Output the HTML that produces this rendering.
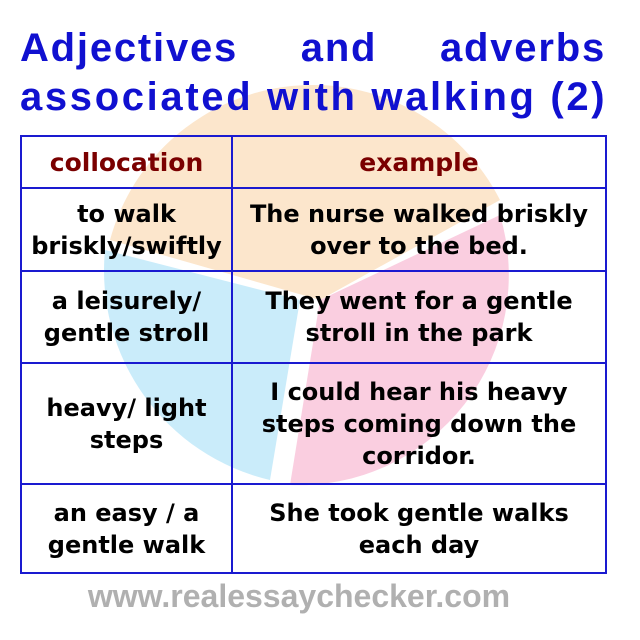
<!DOCTYPE html>
<html><head><meta charset="utf-8"><style>
body{margin:0;width:640px;height:640px;background:#fff;position:relative;overflow:hidden;font-family:"DejaVu Sans","Liberation Sans",sans-serif}
.t{position:absolute;left:20px;width:586px;color:#1010d0;font-family:"Liberation Sans",sans-serif;font-weight:bold;font-size:40px;line-height:40px;white-space:nowrap;letter-spacing:1.8px}
table{position:absolute;left:20px;top:135px;width:587px;height:438px;border-collapse:collapse}
td{border:2px solid #1a1ad0;text-align:center;font-size:24px;font-weight:bold;line-height:32px;color:#000;padding:0 2px;white-space:nowrap}
th{border:2px solid #1a1ad0;font-weight:bold;color:#7a0000;font-size:25px;height:48px}
.f{position:absolute;left:0;width:598px;top:578px;text-align:center;font-family:"Liberation Sans",sans-serif;font-weight:bold;font-size:32px;color:#b0b0b0}
</style></head><body>
<svg style="position:absolute;left:0;top:0" width="640" height="640">
<path d="M110,240 A210,210 0 0 1 500,200 L320,300 Z" fill="#fbd9b0" opacity="0.65"/>
<path d="M105,250 A215,215 0 0 0 270,480 L300,300 Z" fill="#aee2f8" opacity="0.65"/>
<path d="M500,215 A210,210 0 0 1 290,485 L320,300 Z" fill="#f7b3cf" opacity="0.65"/>
</svg>
<div class="t" style="top:28px;text-align:justify;text-align-last:justify;white-space:normal">Adjectives and adverbs</div>
<div class="t" style="top:77px;letter-spacing:2.65px">associated with walking (2)</div>
<table>
<tr><th style="width:207px">collocation</th><th>example</th></tr>
<tr style="height:83px"><td>to walk<br>briskly/swiftly</td><td>The nurse walked briskly<br>over to the bed.</td></tr>
<tr style="height:92px"><td>a leisurely/<br>gentle stroll</td><td>They went for a gentle<br>stroll in the park</td></tr>
<tr style="height:121px"><td>heavy/ light<br>steps</td><td>I could hear his heavy<br>steps coming down the<br>corridor.</td></tr>
<tr style="height:89px"><td>an easy / a<br>gentle walk</td><td>She took gentle walks<br>each day</td></tr>
</table>
<div class="f">www.realessaychecker.com</div>
</body></html>
